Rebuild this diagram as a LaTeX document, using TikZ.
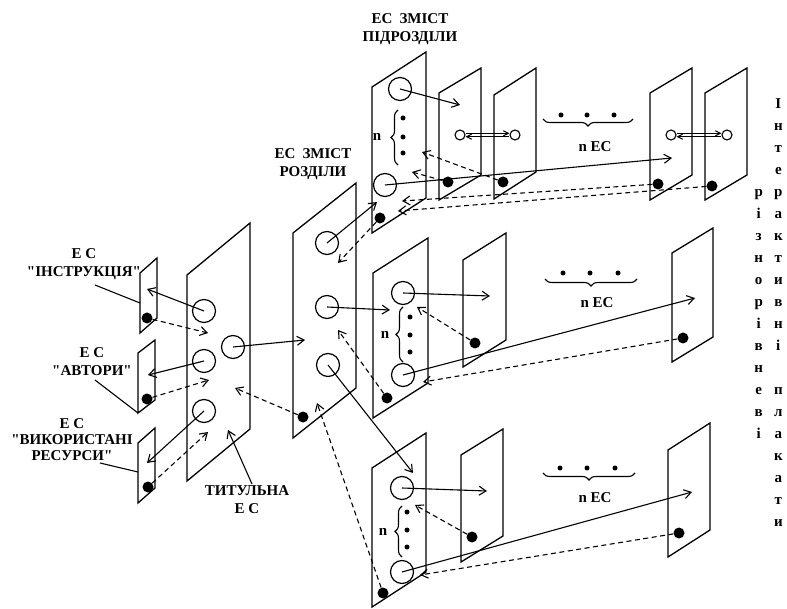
\documentclass[tikz,border=0pt]{standalone}
\usepackage{fontspec}
\setmainfont{Liberation Serif}[Ligatures=TeXOff]
\usetikzlibrary{arrows.meta,decorations.pathreplacing}

\begin{document}
\begin{tikzpicture}[
    x=1pt, y=-1pt,
    every node/.style={font=\bfseries\fontsize{15}{18}\selectfont, align=center, inner sep=0pt},
    sheet/.style={line width=1.3pt},
    ring/.style={circle, draw, line width=1.2pt, minimum size=23pt},
    smallring/.style={circle, draw, line width=1.1pt, minimum size=10pt},
    blob/.style={circle, fill=black, minimum size=11pt},
    pt/.style={circle, fill=black, minimum size=5pt},
    link/.style={line width=1.1pt, -{Straight Barb[length=7pt,width=9pt]}},
    back/.style={link, dash pattern=on 5pt off 3.5pt},
    pair/.style={line width=1pt, -{Straight Barb[length=5pt,width=5pt]}},
    lead/.style={line width=1.1pt},
    curly/.style={decorate, decoration={brace, amplitude=7pt}, line width=1.1pt},
    undercurly/.style={decorate, decoration={brace, mirror, amplitude=7pt}, line width=1.1pt}
  ]
    \useasboundingbox (0,0) rectangle (787,609);

    % Sheets
    \draw[sheet] (140,273) -- ++(17,-15) -- ++(0,60) -- ++(-17,15) -- cycle;
    \draw[sheet] (138,353) -- ++(17,-13) -- ++(0,60) -- ++(-17,13) -- cycle;
    \draw[sheet] (138,443) -- ++(17,-15) -- ++(0,60) -- ++(-17,15) -- cycle;
    \draw[sheet] (187,275) -- ++(63,-52) -- ++(0,206) -- ++(-63,52) -- cycle;
    \draw[sheet] (293,233) -- ++(63,-50) -- ++(0,205) -- ++(-63,50) -- cycle;
    \draw[sheet] (372,87) -- ++(54,-35) -- ++(0,146) -- ++(-54,35) -- cycle;
    \draw[sheet] (439,93) -- ++(42,-25) -- ++(0,107) -- ++(-42,25) -- cycle;
    \draw[sheet] (494,95) -- ++(42,-27) -- ++(0,104) -- ++(-42,27) -- cycle;
    \draw[sheet] (650,93) -- ++(42,-25) -- ++(0,107) -- ++(-42,25) -- cycle;
    \draw[sheet] (705,93) -- ++(42,-25) -- ++(0,107) -- ++(-42,25) -- cycle;
    \draw[sheet] (373,273) -- ++(55,-35) -- ++(0,145) -- ++(-55,35) -- cycle;
    \draw[sheet] (463,260) -- ++(43,-27) -- ++(0,107) -- ++(-43,27) -- cycle;
    \draw[sheet] (672,253) -- ++(41,-25) -- ++(0,109) -- ++(-41,25) -- cycle;
    \draw[sheet] (372,468) -- ++(54,-35) -- ++(0,139) -- ++(-54,35) -- cycle;
    \draw[sheet] (461,455) -- ++(42,-26) -- ++(0,107) -- ++(-42,26) -- cycle;
    \draw[sheet] (668,450) -- ++(42,-27) -- ++(0,107) -- ++(-42,27) -- cycle;

    % Labels
    \node (lblinstr) at (84,264) {Е С\\"ІНСТРУКЦІЯ"};
    \node (lblautor) at (92,362) {Е С\\"АВТОРИ"};
    \node[font=\bfseries\fontsize{15}{16}\selectfont] (lblres) at (72,440) {Е С\\"ВИКОРИСТАНІ\\РЕСУРСИ"};
    \node (lbltitle) at (247,500) {ТИТУЛЬНА\\Е С};
    \node (lblsec) at (313,164) {ЕС\hspace{7pt}ЗМІСТ\\РОЗДІЛИ};
    \node (lblsub) at (410,29) {ЕС\hspace{7pt}ЗМІСТ\\ПІДРОЗДІЛИ};
    \node (nectop) at (595,147) {n ЕС};
    \node (necmid) at (597,303) {n ЕС};
    \node (necbot) at (595,498) {n ЕС};
    \node (ntop) at (377,137) {n};
    \node (nmid) at (385,335) {n};
    \node (nbot) at (383,532) {n};
    \node[anchor=north] (vtitle) at (768.5,93) {\fontsize{15}{22}\selectfont
      \begin{tabular}{@{}c@{\hspace{11pt}}c@{}}
        & І\\ & н\\ & т\\ & е\\ р & р\\ і & а\\ з & к\\ н & т\\ о & и\\ р & в\\
        і & н\\ в & і\\ н & \\ е & п\\ в & л\\ і & а\\ & к\\ & а\\ & т\\ & и
      \end{tabular}};

    % Rings and dots
    \node[blob] (dinstr) at (147,318) {};
    \node[blob] (dautor) at (147,399) {};
    \node[blob] (dres) at (148,487) {};
    \node[ring] (tinstr) at (204,311) {};
    \node[ring] (tautor) at (204,361) {};
    \node[ring] (tres) at (204,411) {};
    \node[ring] (tsec) at (233,347) {};
    \node[ring] (sc1) at (327,243) {};
    \node[ring] (sc2) at (327,307) {};
    \node[ring] (sc3) at (328,365) {};
    \node[blob] (dsec) at (303,417) {};

    \node[ring] (ua) at (400,89) {};
    \node[ring] (ub) at (385,185) {};
    \node[blob] (du) at (380,218) {};
    \node[smallring] (uc2) at (460,135) {};
    \node[smallring] (uc3) at (515,135) {};
    \node[smallring] (uc4) at (671,135) {};
    \node[smallring] (uc5) at (727,135) {};
    \node[blob] (du2) at (448,182) {};
    \node[blob] (du3) at (503,182) {};
    \node[blob] (du4) at (658,184) {};
    \node[blob] (du5) at (712,186) {};

    \node[ring] (ma) at (403,293) {};
    \node[ring] (mb) at (403,375) {};
    \node[blob] (dm) at (387,398) {};
    \node[blob] (dm2) at (475,343) {};
    \node[blob] (dm3) at (683,338) {};

    \node[ring] (ba) at (402,488) {};
    \node[ring] (bb) at (402,572) {};
    \node[blob] (db) at (383,593) {};
    \node[blob] (db2) at (472,537) {};
    \node[blob] (db3) at (679,533) {};

    % n-dots and braces
    \node[pt] (ut1) at (403,118) {};
    \node[pt] (ut2) at (403,137) {};
    \node[pt] (ut3) at (403,153) {};
    \node[pt] (mt1) at (410,317) {};
    \node[pt] (mt2) at (410,335) {};
    \node[pt] (mt3) at (410,352) {};
    \node[pt] (bt1) at (407,512) {};
    \node[pt] (bt2) at (407,530) {};
    \node[pt] (bt3) at (407,547) {};
    \node[pt] (uh1) at (561,115) {};
    \node[pt] (uh2) at (587,115) {};
    \node[pt] (uh3) at (614,115) {};
    \node[pt] (mh1) at (563,273) {};
    \node[pt] (mh2) at (590,273) {};
    \node[pt] (mh3) at (618,273) {};
    \node[pt] (bh1) at (560,468) {};
    \node[pt] (bh2) at (587,468) {};
    \node[pt] (bh3) at (615,468) {};
    \draw[curly] (398,165) -- (398,110);
    \draw[curly] (403,362) -- (403,307);
    \draw[curly] (402,557) -- (402,506);
    \draw[undercurly] (543,119) -- (633,119);
    \draw[undercurly] (545,279) -- (637,279);
    \draw[undercurly] (543,473) -- (635,473);

    % Arrow ends
    \coordinate (p1tip) at (147,289);
    \coordinate (t1tip) at (208,333);
    \coordinate (p2tip) at (148,375);
    \coordinate (t2tip) at (209,380);
    \coordinate (p3tip) at (147,463);
    \coordinate (t3tip) at (208,432);
    \coordinate (sectip) at (305,340);
    \coordinate (titletip) at (235,388);
    \coordinate (upin) at (377,202);
    \coordinate (s1back) at (338,263);
    \coordinate (midin) at (390,310);
    \coordinate (s2back) at (338,330);
    \coordinate (botin) at (413,473);
    \coordinate (s3back) at (317,403);
    \coordinate (u2tip) at (460,105);
    \coordinate (u2back) at (412,172);
    \coordinate (u3back) at (422,152);
    \coordinate (u4tip) at (672,158);
    \coordinate (u4back) at (402,201);
    \coordinate (u5back) at (398,211);
    \coordinate (m2tip) at (490,296);
    \coordinate (m2back) at (417,307);
    \coordinate (m3tip) at (695,298);
    \coordinate (m3back) at (423,382);
    \coordinate (b2tip) at (487,491);
    \coordinate (b2back) at (415,505);
    \coordinate (b3tip) at (692,492);
    \coordinate (b3back) at (420,575);
    \coordinate (instrfoot) at (95,285);
    \coordinate (instrhead) at (140,303);
    \coordinate (autorfoot) at (95,380);
    \coordinate (autorhead) at (138,413);
    \coordinate (resfoot) at (100,463);
    \coordinate (reshead) at (138,472);
    \coordinate (titlefoot) at (252,484);
    \coordinate (titlehead) at (228,430);

    % Leaders
    \draw[lead] (instrfoot) -- (instrhead);
    \draw[lead] (autorfoot) -- (autorhead);
    \draw[lead] (resfoot) -- (reshead);
    \draw[link] (titlefoot) -- (titlehead);

    % Title links
    \draw[link] (tinstr.center) -- (p1tip);
    \draw[back] (dinstr) -- (t1tip);
    \draw[link] (tautor.center) -- (p2tip);
    \draw[back] (dautor) -- (t2tip);
    \draw[link] (tres.center) -- (p3tip);
    \draw[back] (dres) -- (t3tip);
    \draw[link] (tsec.center) -- (sectip);
    \draw[back] (dsec) -- (titletip);

    % Section links
    \draw[link] (sc1.center) -- (upin);
    \draw[back] (du) -- (s1back);
    \draw[link] (sc2.center) -- (midin);
    \draw[back] (dm) -- (s2back);
    \draw[link] (sc3.center) -- (botin);
    \draw[back] (db) -- (s3back);

    % Upper row
    \draw[link] (ua.center) -- (u2tip);
    \draw[back] (du2) -- (u2back);
    \draw[back] (du3) -- (u3back);
    \draw[link] (ub.center) -- (u4tip);
    \draw[back] (du4) -- (u4back);
    \draw[back] (du5) -- (u5back);
    \draw[pair] ([yshift=1.7pt]uc2.east) -- ([yshift=1.7pt]uc3.west);
    \draw[pair] ([yshift=-1.7pt]uc3.west) -- ([yshift=-1.7pt]uc2.east);
    \draw[pair] ([yshift=1.7pt]uc4.east) -- ([yshift=1.7pt]uc5.west);
    \draw[pair] ([yshift=-1.7pt]uc5.west) -- ([yshift=-1.7pt]uc4.east);

    % Middle row
    \draw[link] (ma.center) -- (m2tip);
    \draw[back] (dm2) -- (m2back);
    \draw[link] (mb.center) -- (m3tip);
    \draw[back] (dm3) -- (m3back);

    % Lower row
    \draw[link] (ba.center) -- (b2tip);
    \draw[back] (db2) -- (b2back);
    \draw[link] (bb.center) -- (b3tip);
    \draw[back] (db3) -- (b3back);

  \end{tikzpicture}
\end{document}
